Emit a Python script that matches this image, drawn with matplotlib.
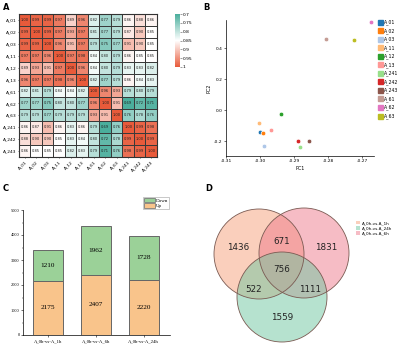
import numpy as np
import matplotlib
matplotlib.use("Agg")
import matplotlib.pyplot as plt
from matplotlib.colors import LinearSegmentedColormap
from matplotlib.patches import Circle, Patch
from matplotlib.lines import Line2D

# ---------------- data ----------------
samples = ["A_01", "A_02", "A_03", "A_11", "A_12", "A_13",
           "A_61", "A_62", "A_63", "A_241", "A_242", "A_243"]
corr = [
    [1.00, 0.99, 0.99, 0.97, 0.89, 0.96, 0.82, 0.77, 0.79, 0.86, 0.88, 0.86],
    [0.99, 1.00, 0.99, 0.97, 0.93, 0.97, 0.81, 0.77, 0.79, 0.87, 0.90, 0.85],
    [0.99, 0.99, 1.00, 0.96, 0.91, 0.97, 0.79, 0.75, 0.77, 0.91, 0.90, 0.85],
    [0.97, 0.97, 0.96, 1.00, 0.97, 0.98, 0.84, 0.80, 0.79, 0.86, 0.85, 0.85],
    [0.89, 0.93, 0.91, 0.97, 1.00, 0.96, 0.84, 0.80, 0.79, 0.83, 0.83, 0.82],
    [0.96, 0.97, 0.97, 0.98, 0.96, 1.00, 0.82, 0.77, 0.79, 0.86, 0.84, 0.83],
    [0.82, 0.81, 0.79, 0.84, 0.84, 0.82, 1.00, 0.96, 0.93, 0.79, 0.80, 0.79],
    [0.77, 0.77, 0.75, 0.80, 0.80, 0.77, 0.96, 1.00, 0.91, 0.69, 0.72, 0.71],
    [0.79, 0.79, 0.77, 0.79, 0.79, 0.79, 0.93, 0.91, 1.00, 0.76, 0.78, 0.76],
    [0.86, 0.87, 0.91, 0.86, 0.83, 0.86, 0.79, 0.69, 0.76, 1.00, 0.99, 0.98],
    [0.88, 0.90, 0.90, 0.85, 0.83, 0.84, 0.80, 0.72, 0.78, 0.99, 1.00, 0.99],
    [0.86, 0.85, 0.85, 0.85, 0.82, 0.83, 0.79, 0.71, 0.76, 0.98, 0.99, 1.00],
]

pca_labels = ["A_01", "A_02", "A_03", "A_11", "A_12", "A_13",
              "A_241", "A_242", "A_243", "A_61", "A_62", "A_63"]
pc1 = [-0.3000, -0.2990, -0.2989, -0.3002, -0.2937, -0.2968,
       -0.2883, -0.2887, -0.2857, -0.2806, -0.2674, -0.2723]
pc2 = [-0.140, -0.145, -0.231, -0.086, -0.022, -0.127,
       -0.240, -0.200, -0.198, 0.460, 0.567, 0.455]
pca_colors = ["#1f77b4", "#ff7f0e", "#aec7e8", "#ffbb78", "#2ca02c", "#ff9896",
              "#98df8a", "#d62728", "#8c564b", "#c49c94", "#e377c2", "#bcbd22"]

comparisons = ["A_0h-vs-A_1h", "A_0h-vs-A_6h", "A_0h-vs-A_24h"]
up_counts = [2175, 2407, 2220]
down_counts = [1210, 1962, 1728]

venn_sets = ["A_0h-vs-A_1h", "A_0h-vs-A_24h", "A_0h-vs-A_6h"]
venn_region_counts = {"1h": 1436, "6h": 1831, "24h": 1559,
                      "1h_6h": 671, "1h_24h": 522, "6h_24h": 1111, "all": 756}

# ---------------- figure ----------------
W, H = 400, 345
fig = plt.figure(figsize=(W / 100, H / 100), dpi=100)


def ax_px(l, t, r, b):
    return fig.add_axes([l / W, 1 - b / H, (r - l) / W, (b - t) / H])


for lab, x, y in [("A", 3, 7), ("B", 203, 7), ("C", 3, 189), ("D", 205, 189)]:
    fig.text(x / W, 1 - y / H, lab, fontsize=6, fontweight="bold", va="center", ha="left")

# ---------------- A: heatmap ----------------
cmap = LinearSegmentedColormap.from_list(
    "tealred", [(0, "#4aae9c"), (0.5, "#ffffff"), (1, "#e85a3a")])
axA = ax_px(19, 14, 157, 157)
M = np.array(corr)
n = len(samples)
mesh = axA.pcolormesh(np.arange(n + 1), np.arange(n + 1), M, cmap=cmap, vmin=0.7, vmax=1.0,
                      edgecolors="#3a3a3a", linewidth=0.5)
axA.set_xlim(0, n)
axA.set_ylim(n, 0)
for i in range(n):
    for j in range(n):
        axA.text(j + 0.5, i + 0.5, f"{M[i, j]:.2f}", ha="center", va="center",
                 fontsize=2.6, color="#222222")
axA.set_xticks(np.arange(n) + 0.5)
axA.set_yticks(np.arange(n) + 0.5)
axA.set_xticklabels(samples, rotation=45, ha="right", rotation_mode="anchor", fontsize=3.2)
axA.set_yticklabels(samples, fontsize=3.2)
axA.tick_params(length=1, width=0.4, pad=1)
for s in axA.spines.values():
    s.set_linewidth(0.8)
    s.set_color("#333333")

caxA = ax_px(175, 14, 180, 67)
cb = fig.colorbar(mesh, cax=caxA, ticks=[0.7, 0.75, 0.8, 0.85, 0.9, 0.95, 1.0])
cb.ax.invert_yaxis()
cb.ax.set_yticklabels(["0.7", "0.75", "0.8", "0.85", "0.9", "0.95", "1"])
cb.ax.tick_params(labelsize=3.2, length=1.5, width=0.4, pad=0.5, color="#555555")
cb.outline.set_visible(False)

# ---------------- B: PCA ----------------
axB = ax_px(226, 20, 374, 156)
for x, y, c, lab in zip(pc1, pc2, pca_colors, pca_labels):
    axB.scatter(x, y, s=11, color=c, edgecolors="white", linewidths=0.5, zorder=3)
axB.set_xlim(-0.31, -0.2665)
axB.set_ylim(-0.297, 0.583)
axB.set_xticks([-0.31, -0.30, -0.29, -0.28, -0.27])
axB.set_xticklabels(["-0.31", "-0.30", "-0.29", "-0.28", "-0.27"])
axB.set_yticks([-0.2, 0.0, 0.2, 0.4])
axB.set_yticklabels(["-0.2", "0.0", "0.2", "0.4"])
axB.tick_params(labelsize=3.2, length=1.5, width=0.4, pad=1)
for s in ["top", "right"]:
    axB.spines[s].set_visible(False)
for s in ["left", "bottom"]:
    axB.spines[s].set_linewidth(0.5)
axB.set_xlabel("PC1", fontsize=3.5, labelpad=1.5)
axB.set_ylabel("PC2", fontsize=3.5, labelpad=2)
handles = [Line2D([], [], marker="s", linestyle="", color=c, markersize=3.6)
           for c in pca_colors]
fig.legend(handles, pca_labels, loc="upper left", bbox_to_anchor=(376 / W, 1 - 17 / H),
           fontsize=3.3, frameon=False, handlelength=0.8, handletextpad=0.4,
           labelspacing=0.62, borderpad=0)

# ---------------- C: stacked bars ----------------
serif = "Liberation Serif"
axC = ax_px(23, 210, 170, 335)
xs = np.arange(len(comparisons))
up_c, down_c = "#f9c48b", "#9bd198"
axC.bar(xs, up_counts, width=0.62, color=up_c, edgecolor="#666666", linewidth=0.7, label="Up")
axC.bar(xs, down_counts, bottom=up_counts, width=0.62, color=down_c, edgecolor="#666666",
        linewidth=0.7, label="Down")
for x, u, d in zip(xs, up_counts, down_counts):
    axC.text(x, u / 2, str(u), ha="center", va="center", fontsize=5.2, family=serif)
    axC.text(x, u + d / 2, str(d), ha="center", va="center", fontsize=5.2, family=serif)
axC.set_xlim(-0.52, 2.55)
axC.set_ylim(0, 5000)
axC.set_yticks(np.arange(0, 5001, 1000))
axC.set_xticks(xs)
axC.set_xticklabels(comparisons, fontsize=3.4, family=serif)
for lbl in axC.get_yticklabels():
    lbl.set_family(serif)
axC.tick_params(axis="y", labelsize=3.2, length=1.5, width=0.4, pad=1)
axC.tick_params(axis="x", length=1.5, width=0.4, pad=1.5)
axC.set_yticks(np.arange(0, 5001, 500), minor=True)
axC.tick_params(axis="y", which="minor", length=0.8, width=0.3)
for s in ["top", "right"]:
    axC.spines[s].set_visible(False)
for s in ["left", "bottom"]:
    axC.spines[s].set_linewidth(0.5)
hC = [Patch(facecolor=down_c, edgecolor="#666666", linewidth=0.5),
      Patch(facecolor=up_c, edgecolor="#666666", linewidth=0.5)]
legC = fig.legend(hC, ["Down", "Up"], loc="upper left", bbox_to_anchor=(143 / W, 1 - 197 / H),
                  prop={"family": serif, "size": 3.6}, frameon=True, fancybox=False,
                  edgecolor="#888888", handlelength=2.2, handleheight=1.0,
                  handletextpad=0.3, labelspacing=0.1, borderpad=0.15, borderaxespad=0)
legC.get_frame().set_linewidth(0.4)

# ---------------- D: Venn ----------------
axD = ax_px(200, 175, 400, 345)
axD.set_xlim(200, 400)
axD.set_ylim(345, 175)
axD.set_aspect("equal")
axD.axis("off")
r = 45
centers = {"1h": (259, 254), "6h": (304, 253), "24h": (282, 297)}
fills = {"1h": "#f6a07a", "6h": "#ef7a8c", "24h": "#6fc6a0"}
for key in ["1h", "6h", "24h"]:
    axD.add_patch(Circle(centers[key], r, facecolor=fills[key], alpha=0.5, edgecolor="none"))
for key in ["1h", "6h", "24h"]:
    axD.add_patch(Circle(centers[key], r, facecolor="none", edgecolor="#7a5a52", linewidth=0.6))
pos = {"1h": (238, 248), "1h_6h": (282, 241), "6h": (326, 248), "all": (282, 269),
       "1h_24h": (254, 289), "6h_24h": (310, 289), "24h": (282, 317)}
for k, (x, y) in pos.items():
    axD.text(x, y, str(venn_region_counts[k]), ha="center", va="center", fontsize=6.3,
             color="#222222")
hD = [Patch(facecolor=fills[k], alpha=0.5, edgecolor="none") for k in ["1h", "24h", "6h"]]
fig.legend(hD, venn_sets, loc="upper left", bbox_to_anchor=(356 / W, 1 - 221 / H),
           fontsize=3.0, frameon=False, handlelength=1.0, handleheight=0.9,
           handletextpad=0.4, labelspacing=0.25, borderpad=0, borderaxespad=0)

fig.savefig("out.png", dpi=100)
